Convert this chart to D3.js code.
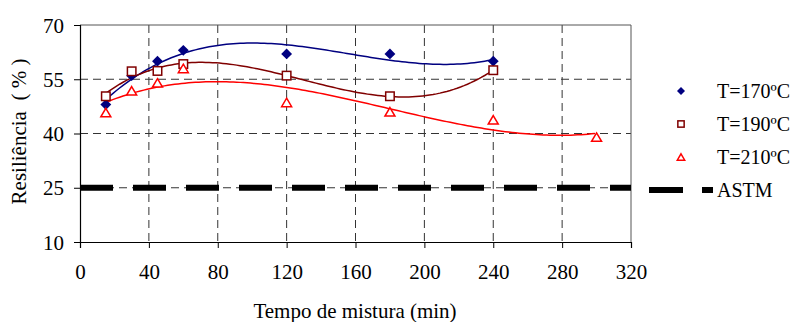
<!DOCTYPE html>
<html lang="pt">
<head>
    <meta charset="UTF-8">
    <script src="https://cdnjs.cloudflare.com/ajax/libs/d3/7.8.5/d3.min.js"></script>
    <title>Resiliência</title>
    <style>
        body { margin: 0; background: white; }
        svg text { font-family: 'Liberation Serif', 'DejaVu Serif', serif !important; fill: black; }
    </style>
</head>
<body>
    <div id="chart"></div>
    <script>
        // Data
        const tempo = [15, 30, 45, 60, 120, 180, 240];
        const t170 = [48, 56, 60, 63, 62, 62, 60];
        const t190 = [50.3, 57.2, 57.3, 59.2, 56, 50.3, 57.5];
        const tempo210 = [15, 30, 45, 60, 120, 180, 240, 300];
        const t210 = [45.8, 51.8, 54, 58, 48.6, 46, 43.8, 39];
        const astm = 25;

        const xTicks = [0, 40, 80, 120, 160, 200, 240, 280, 320];
        const yTicks = [10, 25, 40, 55, 70];
        const legendLabels = ["T=170ºC", "T=190ºC", "T=210ºC", "ASTM"];

        const width = 792, height = 322;
        const margin = { left: 80, right: 161, top: 25, bottom: 80 };
        const serif = "'Liberation Serif', 'Times New Roman', serif";

        const svg = d3.select("#chart").append("svg")
            .attr("width", width)
            .attr("height", height)
            .style("font-family", serif);

        const x = d3.scaleLinear().domain([0, 320]).range([margin.left, width - margin.right]);
        const y = d3.scaleLinear().domain([10, 70]).range([height - margin.bottom, margin.top]);

        // Excel-style polynomial trendline (least squares, order 3)
        function polyFit(xs, ys, order) {
            const n = order + 1;
            const A = Array.from({ length: n }, () => new Array(n + 1).fill(0));
            xs.forEach((xv, k) => {
                for (let i = 0; i < n; i++) {
                    for (let j = 0; j < n; j++) A[i][j] += Math.pow(xv, i + j);
                    A[i][n] += ys[k] * Math.pow(xv, i);
                }
            });
            for (let i = 0; i < n; i++) {
                let p = i;
                for (let r = i + 1; r < n; r++) if (Math.abs(A[r][i]) > Math.abs(A[p][i])) p = r;
                [A[i], A[p]] = [A[p], A[i]];
                for (let r = 0; r < n; r++) {
                    if (r === i) continue;
                    const f = A[r][i] / A[i][i];
                    for (let c = i; c <= n; c++) A[r][c] -= f * A[i][c];
                }
            }
            const coef = A.map((row, i) => row[n] / row[i]);
            return xv => coef.reduce((s, c, i) => s + c * Math.pow(xv, i), 0);
        }

        // gridlines
        const grid = svg.append("g");
        grid.selectAll(".vg")
            .data(xTicks.slice(1, -1))
            .enter().append("line")
            .attr("x1", d => x(d)).attr("x2", d => x(d))
            .attr("y1", y(70)).attr("y2", y(10))
            .attr("stroke", "#333").attr("stroke-width", 1)
            .attr("stroke-dasharray", "8,5");
        grid.selectAll(".hg")
            .data(yTicks.slice(1, -1))
            .enter().append("line")
            .attr("x1", x(0)).attr("x2", x(320))
            .attr("y1", d => y(d)).attr("y2", d => y(d))
            .attr("stroke", "#333").attr("stroke-width", 1)
            .attr("stroke-dasharray", "8,5");

        // frame
        svg.append("line")
            .attr("x1", x(0)).attr("x2", x(320))
            .attr("y1", y(70)).attr("y2", y(70))
            .attr("stroke", "#555");
        svg.append("line")
            .attr("x1", x(320)).attr("x2", x(320))
            .attr("y1", y(70)).attr("y2", y(10))
            .attr("stroke", "#555");

        // axes
        const xAxis = d3.axisBottom(x).tickValues(xTicks).tickSize(6).tickPadding(16);
        const yAxis = d3.axisLeft(y).tickValues(yTicks).tickSize(6).tickPadding(10);

        const gx = svg.append("g")
            .attr("transform", `translate(0,${y(10)})`)
            .call(xAxis);
        const gy = svg.append("g")
            .attr("transform", `translate(${x(0)},0)`)
            .call(yAxis);
        [gx, gy].forEach(g => {
            g.attr("font-family", serif).attr("font-size", 21);
            g.selectAll("text").attr("fill", "black");
            g.selectAll("line, path").attr("stroke", "black");
            g.select(".domain").attr("stroke-width", 1.2);
        });
        gy.selectAll("text").attr("dy", "0.34em");

        // ASTM line
        svg.append("line")
            .attr("x1", x(0)).attr("x2", x(320))
            .attr("y1", y(astm)).attr("y2", y(astm))
            .attr("stroke", "black").attr("stroke-width", 6)
            .attr("stroke-dasharray", "33,20");

        const series = [
            { xs: tempo, ys: t170, color: "#000080", shape: "diamond" },
            { xs: tempo, ys: t190, color: "#800000", shape: "square" },
            { xs: tempo210, ys: t210, color: "#ff0000", shape: "triangle" }
        ];

        const line = d3.line().x(d => x(d[0])).y(d => y(d[1]));

        series.forEach(s => {
            const f = polyFit(s.xs, s.ys, 3);
            const x0 = d3.min(s.xs), x1 = d3.max(s.xs);
            const pts = d3.range(x0, x1 + 0.001, 2).map(t => [t, f(t)]);
            svg.append("path")
                .datum(pts)
                .attr("d", line)
                .attr("fill", "none")
                .attr("stroke", s.color)
                .attr("stroke-width", 1.5);
        });

        function drawMarker(g, shape, color, cx, cy, scale) {
            if (shape === "diamond") {
                g.append("path")
                    .attr("d", d3.symbol().type(d3.symbolDiamond2).size(75 * scale)())
                    .attr("transform", `translate(${cx},${cy})`)
                    .attr("fill", color);
            } else if (shape === "square") {
                const s = 8.5 * Math.sqrt(scale);
                g.append("rect")
                    .attr("x", cx - s / 2).attr("y", cy - s / 2)
                    .attr("width", s).attr("height", s)
                    .attr("fill", "white").attr("stroke", color).attr("stroke-width", 1.5);
            } else {
                const s = 10 * Math.sqrt(scale);
                const h = s * 0.85;
                g.append("path")
                    .attr("d", `M${cx},${cy - h / 2}L${cx + s / 2},${cy + h / 2}L${cx - s / 2},${cy + h / 2}Z`)
                    .attr("fill", "white").attr("stroke", color).attr("stroke-width", 1.5);
            }
        }

        const marks = svg.append("g");
        series.forEach(s => {
            s.xs.forEach((t, i) => drawMarker(marks, s.shape, s.color, x(t), y(s.ys[i]), 1));
        });

        // legend
        const legend = svg.append("g");
        const legY = [91, 124, 157, 190];
        series.forEach((s, i) => {
            drawMarker(legend, s.shape, s.color, 681, legY[i], 0.55);
        });
        legend.append("line")
            .attr("x1", 649).attr("x2", 713)
            .attr("y1", legY[3]).attr("y2", legY[3])
            .attr("stroke", "black").attr("stroke-width", 6)
            .attr("stroke-dasharray", "34,19");
        legend.selectAll("text")
            .data(legendLabels)
            .enter().append("text")
            .attr("x", 717)
            .attr("y", (d, i) => legY[i])
            .attr("dy", "0.35em")
            .style("font-size", "20px")
            .text(d => d);

        // axis titles
        svg.append("text")
            .attr("x", 355)
            .attr("y", 318)
            .attr("text-anchor", "middle")
            .style("font-size", "21px")
            .text("Tempo de mistura (min)");

        svg.append("text")
            .attr("transform", `translate(26,${(y(10) + y(70)) / 2 - 2}) rotate(-90)`)
            .attr("text-anchor", "middle")
            .attr("xml:space", "preserve")
            .style("font-size", "21px")
            .style("white-space", "pre")
            .text("Resiliência  ( % )");
    </script>
</body>
</html>
